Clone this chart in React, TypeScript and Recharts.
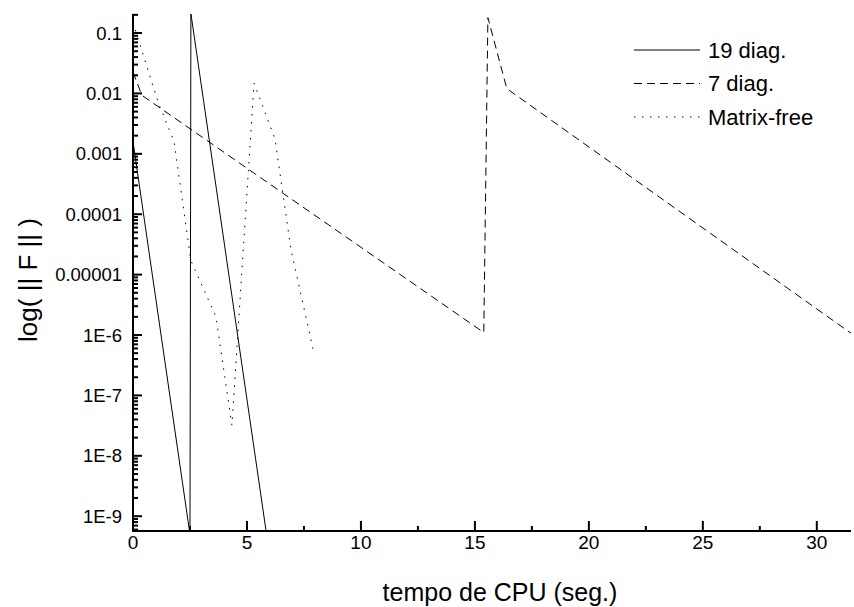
import React from "react";
import { LineChart, Line, XAxis, YAxis, Legend } from "recharts";

// CPU time (s) and residual norm
const time19 = [0, 2.5, 2.54, 5.86];
const res19 = [1.6e-3, 5e-10, 0.21, 5e-10];

const time7 = [0, 0.39, 15.39, 15.57, 16.4, 31.5];
const res7 = [0.0226, 0.0093, 1.1e-6, 0.18, 0.012, 1.07e-6];

const timeMf = [0, 1.1, 1.8, 2.54, 3.64, 4.34, 5.31, 6.23, 6.93, 7.94];
const resMf = [0.15, 0.0072, 0.0016, 1.7e-5, 2.0e-6, 3.2e-8, 0.0148, 0.00176, 2.6e-5, 5.0e-7];

const xTicks = [0, 2.5, 5, 7.5, 10, 12.5, 15, 17.5, 20, 22.5, 25, 27.5, 30];
const yMajor = [0.1, 0.01, 0.001, 0.0001, 0.00001, 1e-6, 1e-7, 1e-8, 1e-9];
const yLabels = ["0.1", "0.01", "0.001", "0.0001", "0.00001", "1E-6", "1E-7", "1E-8", "1E-9"];

const Y_MIN = 5.69e-10;
const Y_MAX = 0.2066;

// minor log ticks 2..9 of every decade inside the domain
const yMinor: number[] = [];
for (let e = -10; e <= -1; e++) {
  for (let m = 2; m <= 9; m++) {
    const v = m * Math.pow(10, e);
    if (v > Y_MIN && v < Y_MAX) yMinor.push(v);
  }
}
const yTicks = [...yMajor, ...yMinor];

const toRows = (xs: number[], ys: number[]) => xs.map((x, i) => ({ x, y: ys[i] }));

const series = [
  { name: "19 diag.", data: toRows(time19, res19), dash: undefined as string | undefined },
  { name: "7 diag.", data: toRows(time7, res7), dash: "8 5" },
  { name: "Matrix-free", data: toRows(timeMf, resMf), dash: "1.5 6.5" },
];

const FONT = "'Liberation Sans', Arial, sans-serif";

// inward tick marks as small filled rects, labels only on majors
const renderXTick = (props: any) => {
  const { x, y, payload } = props;
  const major = payload.value % 5 === 0;
  const len = major ? 10 : 5;
  return (
    <g key={`xt-${payload.value}`}>
      <rect x={x - 1} y={y - len} width={2} height={len + 1} fill="#000" />
      {major && (
        <text x={x} y={y + 11} textAnchor="middle" dominantBaseline="central" fontSize={19} fontFamily={FONT} fill="#000">
          {payload.value}
        </text>
      )}
    </g>
  );
};

const renderYTick = (props: any) => {
  const { x, y, payload } = props;
  const idx = yMajor.findIndex((m) => Math.abs(m - payload.value) / m < 1e-6);
  const major = idx >= 0;
  const len = major ? 9 : 5;
  return (
    <g key={`yt-${payload.value}`}>
      <rect x={x - 1} y={y - 1} width={len + 1} height={2} fill="#000" />
      {major && (
        <text x={x - 11} y={y} textAnchor="end" dominantBaseline="central" fontSize={18.5} fontFamily={FONT} fill="#000">
          {yLabels[idx]}
        </text>
      )}
    </g>
  );
};

const renderLegend = () => (
  <svg width={220} height={110}>
    {series.map((s, i) => (
      <g key={s.name}>
        <line x1={4} x2={70} y1={17 + i * 33.5} y2={17 + i * 33.5} stroke="#000" strokeWidth={1} strokeDasharray={s.dash} />
        <text x={78} y={17 + i * 33.5} dominantBaseline="central" fontSize={22} fontFamily={FONT} fill="#000">
          {s.name}
        </text>
      </g>
    ))}
  </svg>
);

export default function App() {
  return (
    <div style={{ position: "absolute", left: 0, top: 0, background: "#fff" }}>
      <LineChart width={854} height={607} margin={{ top: 14, right: 3, bottom: 0, left: 0 }}>
        <XAxis
          dataKey="x"
          type="number"
          domain={[0, 31.5]}
          ticks={xTicks}
          interval={0}
          height={76}
          tickSize={0}
          tickMargin={0}
          tickLine={false}
          tick={renderXTick}
          allowDataOverflow
          axisLine={{ stroke: "#000", strokeWidth: 2 }}
          label={() => (
            <text x={500} y={592} textAnchor="middle" dominantBaseline="central" fontSize={25} fontFamily={FONT} fill="#000">
              tempo de CPU (seg.)
            </text>
          )}
        />
        <YAxis
          dataKey="y"
          type="number"
          scale="log"
          domain={[Y_MIN, Y_MAX]}
          ticks={yTicks}
          interval={0}
          width={133}
          tickSize={0}
          tickMargin={0}
          tickLine={false}
          tick={renderYTick}
          allowDataOverflow
          axisLine={{ stroke: "#000", strokeWidth: 2 }}
          label={() => (
            <text
              x={28}
              y={280}
              transform="rotate(-90, 28, 280)"
              textAnchor="middle"
              dominantBaseline="central"
              fontSize={26}
              fontFamily={FONT}
              fill="#000"
            >
              log( || F || )
            </text>
          )}
        />
        <Legend
          layout="vertical"
          align="center"
          verticalAlign="middle"
          content={renderLegend}
          wrapperStyle={{ position: "absolute", left: 630, top: 33, width: 220, height: 110 }}
        />
        {series.map((s) => (
          <Line
            key={s.name}
            data={s.data}
            dataKey="y"
            name={s.name}
            type="linear"
            stroke="#000"
            strokeWidth={1}
            strokeDasharray={s.dash}
            dot={false}
            activeDot={false}
            isAnimationActive={false}
          />
        ))}
      </LineChart>
    </div>
  );
}
